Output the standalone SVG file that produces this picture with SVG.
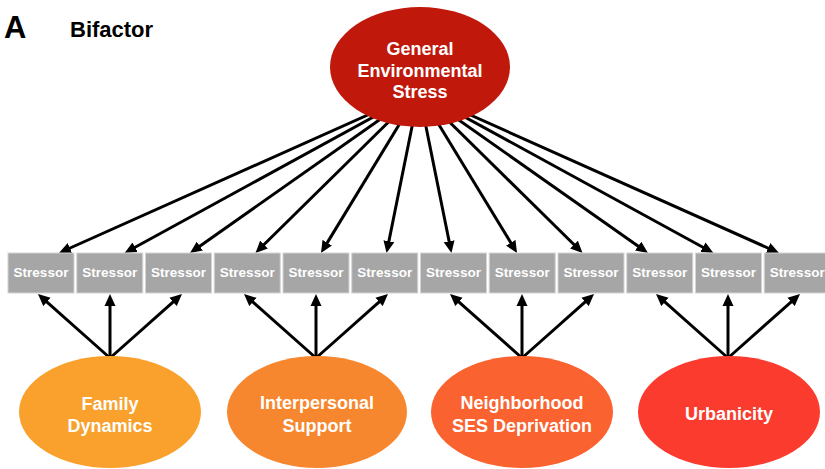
<svg xmlns="http://www.w3.org/2000/svg" width="825" height="469" viewBox="0 0 825 469">
  <style>
    .title { font-family: "Liberation Sans", Arial, sans-serif; font-weight: bold; fill: #000; }
    .lbl { font-family: "Liberation Sans", Arial, sans-serif; font-weight: bold; font-size: 18px; fill: #fff; text-anchor: middle; }
    .box rect { fill: #a6a6a6; stroke: #d4d4d4; stroke-width: 1; }
    .box text { font-family: "Liberation Sans", Arial, sans-serif; font-weight: bold; font-size: 13.5px; fill: #fff; text-anchor: middle; }
    .edge { stroke: #000; stroke-width: 3; fill: none; marker-end: url(#arrow); }
  </style>
  <defs>
    <marker id="arrow" markerUnits="userSpaceOnUse" markerWidth="14" markerHeight="12" refX="1" refY="6" orient="auto">
      <path d="M0,0.5 L12,6 L0,11.5 z" fill="#000"/>
    </marker>
  </defs>

  <rect width="825" height="469" fill="#fff"/>

  <text class="title" x="4" y="38" font-size="31">A</text>
  <text class="title" x="70" y="37" font-size="22">Bifactor</text>

  <!-- loadings: general factor to every stressor, specific factors to their three -->
  <g id="connectors">
    <line class="edge" x1="419" y1="92" x2="69.0" y2="248.5"/>
    <line class="edge" x1="419" y1="92" x2="134.2" y2="247.7"/>
    <line class="edge" x1="419" y1="92" x2="199.0" y2="246.7"/>
    <line class="edge" x1="419" y1="92" x2="263.3" y2="245.3"/>
    <line class="edge" x1="419" y1="92" x2="326.7" y2="243.6"/>
    <line class="edge" x1="419" y1="92" x2="388.7" y2="242.2"/>
    <line class="edge" x1="419" y1="92" x2="449.3" y2="242.2"/>
    <line class="edge" x1="419" y1="92" x2="511.3" y2="243.6"/>
    <line class="edge" x1="419" y1="92" x2="574.7" y2="245.3"/>
    <line class="edge" x1="419" y1="92" x2="639.0" y2="246.7"/>
    <line class="edge" x1="419" y1="92" x2="703.8" y2="247.7"/>
    <line class="edge" x1="419" y1="92" x2="769.0" y2="248.5"/>

    <line class="edge" x1="110" y1="358" x2="46.2" y2="301.3"/>
    <line class="edge" x1="110" y1="358" x2="110" y2="305"/>
    <line class="edge" x1="110" y1="358" x2="173.8" y2="301.3"/>

    <line class="edge" x1="316" y1="358" x2="252.2" y2="301.3"/>
    <line class="edge" x1="316" y1="358" x2="316" y2="305"/>
    <line class="edge" x1="316" y1="358" x2="379.8" y2="301.3"/>

    <line class="edge" x1="522" y1="358" x2="458.2" y2="301.3"/>
    <line class="edge" x1="522" y1="358" x2="522" y2="305"/>
    <line class="edge" x1="522" y1="358" x2="585.8" y2="301.3"/>

    <line class="edge" x1="728" y1="358" x2="664.2" y2="301.3"/>
    <line class="edge" x1="728" y1="358" x2="728" y2="305"/>
    <line class="edge" x1="728" y1="358" x2="791.8" y2="301.3"/>
  </g>

  <g id="general">
    <ellipse cx="420" cy="67" rx="90" ry="60" fill="#c0190b"/>
    <text class="lbl" x="420" y="55">General</text>
    <text class="lbl" x="420" y="77">Environmental</text>
    <text class="lbl" x="420" y="98">Stress</text>
  </g>

  <g id="stressor-1" class="box"><rect x="8" y="253" width="66" height="40"/><text x="41" y="277">Stressor</text></g>
  <g id="stressor-2" class="box"><rect x="76.75" y="253" width="66" height="40"/><text x="109.75" y="277">Stressor</text></g>
  <g id="stressor-3" class="box"><rect x="145.5" y="253" width="66" height="40"/><text x="178.5" y="277">Stressor</text></g>
  <g id="stressor-4" class="box"><rect x="214.25" y="253" width="66" height="40"/><text x="247.25" y="277">Stressor</text></g>
  <g id="stressor-5" class="box"><rect x="283" y="253" width="66" height="40"/><text x="316" y="277">Stressor</text></g>
  <g id="stressor-6" class="box"><rect x="351.75" y="253" width="66" height="40"/><text x="384.75" y="277">Stressor</text></g>
  <g id="stressor-7" class="box"><rect x="420.5" y="253" width="66" height="40"/><text x="453.5" y="277">Stressor</text></g>
  <g id="stressor-8" class="box"><rect x="489.25" y="253" width="66" height="40"/><text x="522.25" y="277">Stressor</text></g>
  <g id="stressor-9" class="box"><rect x="558" y="253" width="66" height="40"/><text x="591" y="277">Stressor</text></g>
  <g id="stressor-10" class="box"><rect x="626.75" y="253" width="66" height="40"/><text x="659.75" y="277">Stressor</text></g>
  <g id="stressor-11" class="box"><rect x="695.5" y="253" width="66" height="40"/><text x="728.5" y="277">Stressor</text></g>
  <g id="stressor-12" class="box"><rect x="764.25" y="253" width="66" height="40"/><text x="797.25" y="277">Stressor</text></g>

  <g id="family">
    <ellipse cx="110" cy="412" rx="91" ry="56" fill="#f9a12c"/>
    <text class="lbl" x="110" y="410">Family</text>
    <text class="lbl" x="110" y="432">Dynamics</text>
  </g>
  <g id="interpersonal">
    <ellipse cx="317" cy="412" rx="90" ry="56" fill="#f7872e"/>
    <text class="lbl" x="317" y="409">Interpersonal</text>
    <text class="lbl" x="317" y="432">Support</text>
  </g>
  <g id="neighborhood">
    <ellipse cx="522" cy="412" rx="91" ry="56" fill="#fa6230"/>
    <text class="lbl" x="522" y="409">Neighborhood</text>
    <text class="lbl" x="522" y="432">SES Deprivation</text>
  </g>
  <g id="urbanicity">
    <ellipse cx="729" cy="412" rx="91" ry="56" fill="#fb3b2e"/>
    <text class="lbl" x="729" y="420">Urbanicity</text>
  </g>
</svg>
